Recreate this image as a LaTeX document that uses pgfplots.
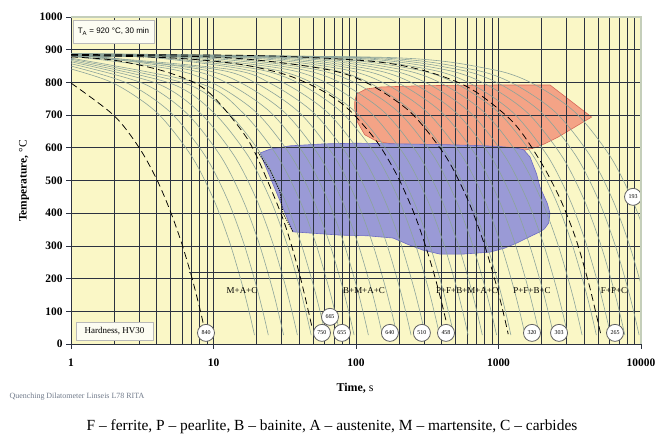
\documentclass[border=0pt]{standalone}
\usepackage{fontspec}
\setmainfont{Liberation Serif}
\newfontfamily\arialfont{Liberation Sans}
\usepackage{pgfplots}
\pgfplotsset{compat=1.18}
\definecolor{bgy}{RGB}{250,247,198}
\definecolor{gridc}{RGB}{44,50,64}
\definecolor{coolc}{RGB}{140,164,154}
\definecolor{redreg}{RGB}{244,163,134}
\definecolor{redline}{RGB}{214,104,88}
\definecolor{bluereg}{RGB}{154,154,214}
\definecolor{blueline}{RGB}{106,106,196}
\definecolor{framec}{RGB}{196,206,186}
\definecolor{notec}{RGB}{112,122,138}
\definecolor{boxc}{RGB}{252,252,242}
\pgfdeclarelayer{regions}
\pgfplotsset{
  layers/cct/.define layer set={axis background,regions,axis grid,axis ticks,axis lines,axis tick labels,main,axis descriptions,axis foreground}{/pgfplots/layers/standard},
  cool/.style={color=coolc, line width=0.6bp, smooth},
  dsh/.style={color=black, line width=0.75bp, dash pattern=on 7bp off 4bp, smooth},
}
\begin{document}
\begin{tikzpicture}[x=1bp,y=1bp]
\begin{axis}[
  set layers=cct,
  clip mode=individual,
  scale only axis, width=570bp, height=327bp,
  at={(0,0)}, anchor=south west,
  xmode=log, xmin=1, xmax=10000, ymin=0, ymax=1000,
  xtick={1,10,100,1000}, xticklabels={1,10,100,1000},
  extra x ticks={10000}, extra x tick labels={10000},
  extra x tick style={grid=none},
  minor xtick={2,3,4,5,6,7,8,9,20,30,40,50,60,70,80,90,200,300,400,500,600,700,800,900,2000,3000,4000,5000,6000,7000,8000,9000},
  ytick={0,100,200,300,400,500,600,700,800,900},
  yticklabels={0,100,200,300,400,500,600,700,800,900},
  extra y ticks={1000}, extra y tick labels={1000},
  extra y tick style={grid=none},
  grid=both,
  major grid style={color=gridc, line width=0.65bp},
  minor grid style={color=gridc, line width=0.65bp},
  axis line style={draw=none},
  tick align=outside, major tick length=5bp, minor tick length=0bp,
  xtick pos=left, ytick pos=left,
  tick style={color=gridc, line width=0.7bp},
  ticklabel style={font=\bfseries\fontsize{11.5}{13}\selectfont},
  xticklabel style={yshift=-6bp},
  axis background/.style={fill=bgy},
]
% transformation regions
\addplot[on layer=regions, fill=redreg, draw=redline, line width=0.6bp] coordinates {
 (98,740) (101,765) (118,780) (150,786) (300,790) (1000,792) (2300,792) (4500,694)
 (2600,632) (2100,612) (1800,600) (1500,592) (1200,590) (800,596) (400,602) (200,608)
 (140,620) (115,640) (102,680) (98,720)} -- cycle;
\addplot[on layer=regions, fill=bluereg, draw=blueline, line width=0.6bp] coordinates {
 (21.2,584) (25,596) (34.4,606) (60,612) (100,614) (200,612) (388,610) (700,607)
 (1000,604) (1300,600) (1500,594) (1663,572) (1850,520) (1954,480) (2200,430) (2297,400)
 (2250,370) (2100,352) (1954,343) (1600,325) (1349,309) (1100,293) (872,281) (564,275)
 (388,275) (295,287) (230,305) (182,324) (120,331) (77,333) (36.1,343)} -- cycle;
% cooling curves
\addplot[cool] coordinates {(1,841) (2,797) (4,708) (7,575) (10,443) (13,310) (16,177) (18,89) (19.4,27)};
\addplot[cool] coordinates {(1,850) (2.5,797) (5,708) (8.75,575) (12.5,443) (16.25,310) (20,177) (22.5,89) (24.25,27)};
\addplot[cool] coordinates {(1,857) (3.2,797) (6.4,708) (11.2,575) (16,443) (20.8,310) (25.6,177) (28.8,89) (31.04,27)};
\addplot[cool] coordinates {(1,863) (4,797) (8,708) (14,575) (20,443) (26,310) (32,177) (36,89) (38.8,27)};
\addplot[cool] coordinates {(1,867) (5,797) (10,708) (17.5,575) (25,443) (32.5,310) (40,177) (45,89) (48.5,27)};
\addplot[cool] coordinates {(1,871) (6.3,797) (12.6,708) (22.05,575) (31.5,443) (40.95,310) (50.4,177) (56.7,89) (61.1,27)};
\addplot[cool] coordinates {(1,874) (8,797) (16,708) (28,575) (40,443) (52,310) (64,177) (72,89) (77.6,27)};
\addplot[cool] coordinates {(1,880) (5,841) (10,797) (20,708) (35,575) (50,443) (65,310) (80,177) (90,89) (97,27)};
\addplot[cool] coordinates {(1,886) (6.3,841) (12.6,797) (25.2,708) (44.1,575) (63,443) (81.9,310) (100.8,177) (113.4,89) (122.2,27)};
\addplot[cool] coordinates {(1,888) (7.9,841) (15.8,797) (31.6,708) (55.3,575) (79,443) (102.7,310) (126.4,177) (142.2,89) (153.3,27)};
\addplot[cool] coordinates {(1,880) (10,841) (20,797) (40,708) (70,575) (100,443) (130,310) (160,177) (180,89) (194,27)};
\addplot[cool] coordinates {(1,884) (12.5,841) (25.1,797) (50.2,708) (87.9,575) (125.5,443) (163.2,310) (200.8,177) (225.9,89) (243.5,27)};
\addplot[cool] coordinates {(1,888) (3.2,879) (15.8,841) (31.6,797) (63.2,708) (110.6,575) (158,443) (205.4,310) (252.8,177) (284.4,89) (306.5,27)};
\addplot[cool] coordinates {(1,880) (4,876) (19.9,841) (39.8,797) (79.6,708) (139.3,575) (199,443) (258.7,310) (318.4,177) (358.2,89) (386.1,27)};
\addplot[cool] coordinates {(1,884) (5,876) (25,841) (50.1,797) (100.2,708) (175.4,575) (250.5,443) (325.7,310) (400.8,177) (450.9,89) (486,27)};
\addplot[cool] coordinates {(1,888) (6.3,876) (31.6,841) (63.1,797) (126.2,708) (220.9,575) (315.5,443) (410.2,310) (504.8,177) (567.9,89) (612.1,27)};
\addplot[cool] coordinates {(1,880) (7.9,876) (39.7,841) (79.4,797) (158.8,708) (277.9,575) (397,443) (516.1,310) (635.2,177) (714.6,89) (770.2,27)};
\addplot[cool] coordinates {(1,884) (10,876) (50,841) (100,797) (200,708) (350,575) (500,443) (650,310) (800,177) (900,89) (970,27)};
\addplot[cool] coordinates {(1,888) (12.6,876) (63,841) (126,797) (252,708) (441,575) (630,443) (819,310) (1008,177) (1134,89) (1222,27)};
\addplot[cool] coordinates {(1,880) (15.9,876) (79.3,841) (158.5,797) (317,708) (554.8,575) (792.5,443) (1030,310) (1268,177) (1426.5,89) (1537.5,27)};
\addplot[cool] coordinates {(1,884) (20,876) (100,841) (200,797) (400,708) (700,575) (1000,443) (1300,310) (1600,177) (1800,89) (1940,27)};
\addplot[cool] coordinates {(1,888) (25.1,876) (125.5,841) (251,797) (502,708) (878.5,575) (1255,443) (1631.5,310) (2008,177) (2259,89) (2434.7,27)};
\addplot[cool] coordinates {(1,880) (31.6,876) (158,841) (316,797) (632,708) (1106,575) (1580,443) (2054,310) (2528,177) (2844,89) (3065,27)};
\addplot[cool] coordinates {(1,884) (39.8,876) (199,841) (398,797) (796,708) (1393,575) (1990,443) (2587,310) (3184,177) (3582,89) (3861,27)};
\addplot[cool] coordinates {(1,888) (50.1,876) (250.5,841) (501,797) (1002,708) (1753.5,575) (2505,443) (3256.5,310) (4008,177) (4509,89) (4860,27)};
\addplot[cool] coordinates {(1,880) (63.1,876) (315.5,841) (631,797) (1262,708) (2208.5,575) (3155,443) (4101.5,310) (5048,177) (5679,89) (6121,27)};
\addplot[cool] coordinates {(1,884) (79.4,876) (397,841) (794,797) (1588,708) (2779,575) (3970,443) (5161,310) (6352,177) (7146,89) (7702,27)};
\addplot[cool] coordinates {(1,888) (100,876) (500,841) (1000,797) (2000,708) (3500,575) (5000,443) (6500,310) (8000,177) (9000,89) (9700,27)};
\addplot[cool] coordinates {(1,880) (126,876) (630,841) (1260,797) (2520,708) (4410,575) (6300,443) (8190,310) (10080,177) (11340,89) (12222,27)};
\addplot[cool] coordinates {(1,884) (173,876) (865,841) (1730,797) (3460,708) (6055,575) (8650,443) (11245,310) (13840,177)};
% dashed cooling curves
\addplot[dsh] coordinates {(1,798) (2,699) (3,601) (4,503) (5,404) (6,306) (7,208) (8,110) (8.8,31)};
\addplot[dsh] coordinates {(1,878) (2,868) (4.2,838) (7.2,801) (10,756) (15.8,652) (20.2,572) (30.7,383) (39.8,220) (49.1,52)};
\addplot[dsh] coordinates {(1,883) (5,875) (15,856) (33,822) (60,771) (90,715) (140,619) (194,516) (250,410) (295,324) (350,220) (400,125) (445,40)};
\addplot[dsh] coordinates {(1,884) (12,876) (60,841) (121,797) (242,708) (424,575) (606,443) (788,310) (970,177) (1090,89) (1170,30)};
\addplot[dsh] coordinates {(1,885) (20,882) (125,865) (300,836) (631,782) (1260,679) (1960,560) (2700,445) (3500,320) (4300,185) (4860,89) (5200,33)};
% boundary of bainite start (dotted) and Ms line
\addplot[color=black, line width=0.8bp, dash pattern=on 1.2bp off 1.2bp] coordinates {(20.5,586) (25,530) (29.3,465) (30.7,401) (36.1,343)};
\addplot[color=gridc, line width=0.7bp] coordinates {(6.7,220) (980,220)};
% hardness values
\addplot[only marks, mark=*, mark size=8.5bp,
  mark options={fill=white, draw=gray!75!black, line width=0.8bp},
  point meta=explicit symbolic, nodes near coords,
  nodes near coords style={anchor=center, font=\fontsize{6}{6}\selectfont, text=black}]
coordinates {(8.86,34)[840] (57.7,34)[750] (65.7,83)[665] (79.7,34)[655] (173,34)[640] (290,34)[510] (428,34)[458] (1718,34)[320] (2660,34)[303] (6571,34)[265] (8790,450)[193]};
\end{axis}
\draw[framec, line width=1.2bp] (0,327) -- (570,327) -- (570,0);
\node[font=\fontsize{9}{10}\selectfont] at (171,53) {M+A+C};
\node[font=\fontsize{9}{10}\selectfont] at (293,53) {B+M+A+C};
\node[font=\fontsize{9}{10}\selectfont] at (396,53) {P+F+B+M+A+C};
\node[font=\fontsize{9}{10}\selectfont] at (461,53) {P+F+B+C};
\node[font=\fontsize{9}{10}\selectfont] at (543,53) {F+P+C};
\node[draw=gray!55, fill=boxc, line width=0.8bp, minimum width=77bp, minimum height=18bp, inner sep=0pt, font=\fontsize{9}{10}\selectfont] at (43.5,13) {Hardness, HV30};
\node[draw=gray!55, fill=boxc, line width=0.8bp, minimum width=81bp, minimum height=23bp, inner sep=0pt, font=\arialfont\fontsize{8}{9}\selectfont] at (42.5,312.5) {T\textsubscript{A} = 920 °C, 30 min};
\node[rotate=90, font=\fontsize{11.5}{13}\selectfont] at (-47,163) {\textbf{Temperature,} °C};
\node[font=\fontsize{12}{14}\selectfont] at (284,-44) {\textbf{Time,} s};
\node[anchor=west, text=notec, font=\fontsize{8}{9}\selectfont] at (-65,-53) {Quenching Dilatometer Linseis L78 RITA};
\node[anchor=base, inner sep=0pt, font=\fontsize{15.5}{18}\selectfont] at (261,-86.5) {F – ferrite, P – pearlite, B – bainite, A – austenite, M – martensite, C – carbides};
\pgfresetboundingbox
\path[use as bounding box] (-71,-91) rectangle (599,344);
\end{tikzpicture}
\end{document}
